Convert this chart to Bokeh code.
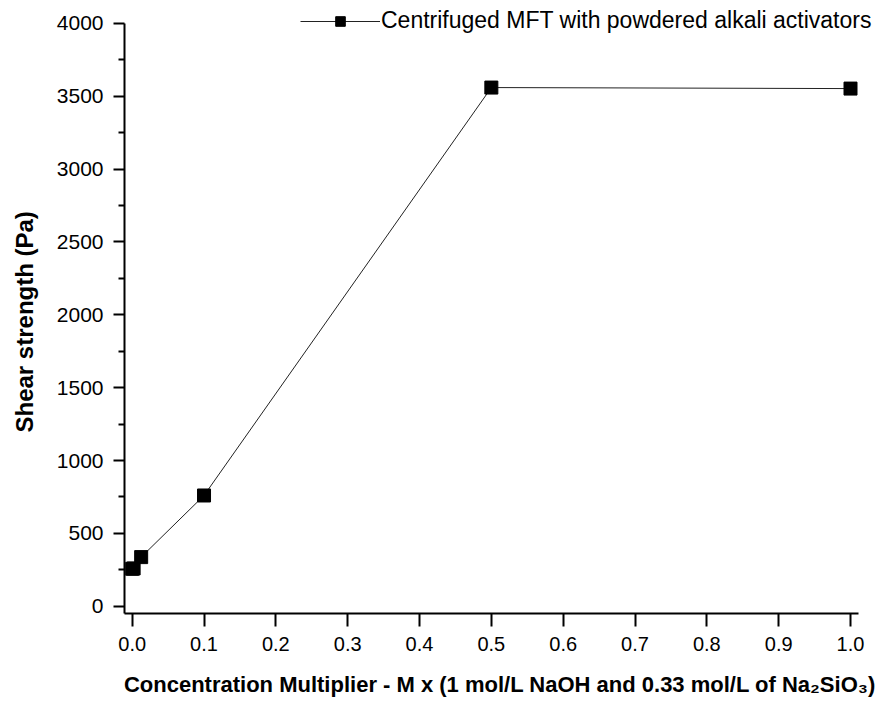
from bokeh.plotting import figure
from bokeh.models import FixedTicker, Legend, LegendItem, NumeralTickFormatter, Range1d
from bokeh.embed import file_html
from bokeh.resources import INLINE

# data
multiplier = [0.0, 0.002, 0.0125, 0.1, 0.5, 1.0]
shear_strength = [257, 259, 337, 760, 3560, 3553]
series_name = "Centrifuged MFT with powdered alkali activators"
x_ticks = [0.0, 0.1, 0.2, 0.3, 0.4, 0.5, 0.6, 0.7, 0.8, 0.9, 1.0]
y_ticks = [0, 500, 1000, 1500, 2000, 2500, 3000, 3500, 4000]
y_minor = [250, 750, 1250, 1750, 2250, 2750, 3250, 3750]

p = figure(width=879, height=709, output_backend="svg", toolbar_location=None,
           x_range=Range1d(-0.0107, 1.0348), y_range=Range1d(-50, 4137),
           min_border_left=124, min_border_right=4, min_border_top=3, min_border_bottom=96)
p.outline_line_color = None
p.xgrid.visible = False
p.ygrid.visible = False
p.background_fill_color = "white"

ln = p.line(multiplier, shear_strength, line_color="#222222", line_width=1)
sc = p.scatter(multiplier, shear_strength, marker="square", size=13,
               fill_color="black", line_color="black")

FONT = "Liberation Sans"

xa = p.xaxis[0]
xa.ticker = FixedTicker(ticks=x_ticks, minor_ticks=[])
xa.bounds = (-0.0107, 1.0111)
xa.formatter = NumeralTickFormatter(format="0.0")
xa.axis_label = "Concentration Multiplier - M x (1 mol/L NaOH and 0.33 mol/L of Na\u2082SiO\u2083)"
xa.axis_label_text_font = FONT
xa.axis_label_text_font_style = "bold"
xa.axis_label_text_font_size = "22px"
xa.axis_label_text_color = "black"
xa.axis_label_standoff = 18
xa.major_label_text_font = FONT
xa.major_label_text_font_size = "20px"
xa.major_label_text_color = "black"
xa.major_label_standoff = 10
xa.axis_line_width = 2
xa.major_tick_line_width = 2
xa.major_tick_out = 13
xa.major_tick_in = 0
xa.minor_tick_out = 0
xa.minor_tick_in = 0

ya = p.yaxis[0]
ya.ticker = FixedTicker(ticks=y_ticks, minor_ticks=y_minor)
ya.bounds = (-50, 4000)
ya.axis_label = "Shear strength (Pa)\u00a0\u00a0\u00a0\u00a0"
ya.axis_label_text_font = FONT
ya.axis_label_text_font_style = "bold"
ya.axis_label_text_font_size = "24px"
ya.axis_label_text_color = "black"
ya.axis_label_standoff = 16
ya.major_label_text_font = FONT
ya.major_label_text_font_size = "21px"
ya.major_label_text_color = "black"
ya.major_label_standoff = 10
ya.axis_line_width = 2
ya.major_tick_line_width = 2
ya.minor_tick_line_width = 2
ya.major_tick_out = 11
ya.major_tick_in = 0
ya.minor_tick_out = 6
ya.minor_tick_in = 0

legend = Legend(items=[LegendItem(label=series_name, renderers=[ln, sc])],
                location=(176, 579), orientation="vertical",
                border_line_color=None, background_fill_alpha=0,
                padding=0, margin=0, spacing=0,
                glyph_width=80, glyph_height=24, label_height=24,
                label_standoff=1,
                label_text_font=FONT, label_text_font_size="23px",
                label_text_color="black")
p.add_layout(legend, "center")

open("out.html", "w").write(file_html(p, INLINE))
